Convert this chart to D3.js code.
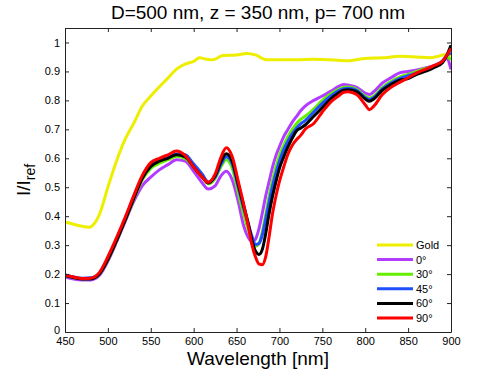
<!DOCTYPE html>
<html>
<head>
<meta charset="utf-8">
<script src="https://cdn.jsdelivr.net/npm/d3@7"></script>
<style>
  body { margin: 0; background: #fff; }
  text { font-family: "Liberation Sans", Arial, sans-serif; }
</style>
</head>
<body>
<svg id="chart" width="498" height="375"></svg>
<script>
// wavelength grid (nm) for the angle curves
var wavelength = [450,460,470,480,490,500,510,520,530,540,550,560,570,580,590,600,610,617,625,632,638,645,652,658,664,668,672,676,680,684,688,692,696,700,705,710,715,720,725,730,740,750,760,770,775,780,790,800,805,810,820,830,840,850,860,870,880,890,895,900];

var deg0  = [0.19,0.183,0.18,0.18,0.195,0.245,0.31,0.38,0.45,0.505,0.535,0.56,0.578,0.595,0.59,0.555,0.515,0.494,0.505,0.54,0.555,0.525,0.45,0.37,0.325,0.312,0.32,0.355,0.41,0.47,0.52,0.57,0.61,0.64,0.675,0.7,0.725,0.745,0.765,0.78,0.8,0.815,0.832,0.85,0.855,0.853,0.845,0.825,0.82,0.83,0.86,0.878,0.895,0.9,0.905,0.912,0.92,0.935,0.945,0.907];
var deg30 = [0.195,0.188,0.184,0.185,0.2,0.25,0.315,0.385,0.458,0.525,0.565,0.583,0.595,0.607,0.6,0.57,0.535,0.512,0.53,0.572,0.595,0.565,0.48,0.41,0.35,0.315,0.296,0.305,0.345,0.405,0.47,0.525,0.57,0.61,0.645,0.675,0.7,0.72,0.735,0.745,0.77,0.8,0.823,0.84,0.845,0.846,0.838,0.815,0.808,0.815,0.845,0.865,0.88,0.89,0.9,0.91,0.918,0.935,0.95,0.94];
var deg45 = [0.197,0.19,0.186,0.187,0.203,0.255,0.32,0.39,0.465,0.535,0.575,0.593,0.603,0.615,0.612,0.58,0.545,0.518,0.535,0.58,0.605,0.58,0.5,0.43,0.37,0.33,0.302,0.305,0.335,0.39,0.45,0.505,0.55,0.59,0.63,0.66,0.685,0.705,0.72,0.73,0.76,0.79,0.815,0.835,0.84,0.842,0.835,0.81,0.803,0.81,0.84,0.86,0.875,0.885,0.895,0.905,0.915,0.935,0.955,0.963];
var deg60 = [0.195,0.188,0.183,0.183,0.2,0.25,0.315,0.385,0.46,0.53,0.572,0.59,0.6,0.612,0.605,0.57,0.535,0.515,0.54,0.59,0.616,0.59,0.51,0.44,0.37,0.315,0.28,0.268,0.285,0.34,0.41,0.47,0.52,0.565,0.605,0.64,0.67,0.695,0.705,0.715,0.745,0.775,0.805,0.828,0.835,0.837,0.83,0.805,0.797,0.805,0.835,0.855,0.87,0.875,0.89,0.9,0.913,0.93,0.955,0.99];
var deg90 = [0.197,0.19,0.185,0.186,0.205,0.26,0.325,0.395,0.47,0.54,0.585,0.6,0.612,0.625,0.61,0.57,0.535,0.517,0.545,0.605,0.636,0.605,0.52,0.445,0.36,0.3,0.26,0.235,0.232,0.26,0.33,0.41,0.47,0.52,0.57,0.615,0.645,0.665,0.68,0.7,0.72,0.76,0.795,0.818,0.828,0.83,0.82,0.785,0.768,0.78,0.82,0.845,0.862,0.878,0.895,0.907,0.92,0.935,0.955,0.98];

// gold reference
var goldWavelength = [450,460,470,478,485,490,500,510,520,530,540,550,560,570,580,590,600,607,615,622,634,650,662,672,685,700,720,740,760,780,800,820,840,860,875,885,892,900];
var gold = [0.38,0.372,0.365,0.362,0.378,0.405,0.5,0.59,0.665,0.72,0.78,0.815,0.847,0.877,0.908,0.925,0.935,0.947,0.942,0.94,0.955,0.957,0.962,0.957,0.94,0.94,0.94,0.942,0.94,0.937,0.945,0.947,0.952,0.95,0.947,0.952,0.958,0.955];

var seriesNames = ["Gold","0°","30°","45°","60°","90°"];
var xTicks = [450,500,550,600,650,700,750,800,850,900];
var yTicks = [0,0.1,0.2,0.3,0.4,0.5,0.6,0.7,0.8,0.9,1];

var colors = ["#eeee00","#b23cff","#66ee00","#1f4fff","#000000","#ff0000"];

var margin = {top: 28, right: 47, bottom: 43, left: 65},
    width = 498 - margin.left - margin.right,
    height = 375 - margin.top - margin.bottom;

var svg = d3.select("#chart");
var g = svg.append("g").attr("transform", "translate(" + margin.left + "," + margin.top + ")");

var x = d3.scaleLinear().domain([450, 900]).range([0, width]);
var y = d3.scaleLinear().domain([0, 1.05]).range([height, 0]);

var series = [
  {name: seriesNames[0], xs: goldWavelength, ys: gold},
  {name: seriesNames[1], xs: wavelength, ys: deg0},
  {name: seriesNames[2], xs: wavelength, ys: deg30},
  {name: seriesNames[3], xs: wavelength, ys: deg45},
  {name: seriesNames[4], xs: wavelength, ys: deg60},
  {name: seriesNames[5], xs: wavelength, ys: deg90}
];

var line = d3.line()
  .x(function(d) { return x(d[0]); })
  .y(function(d) { return y(d[1]); })
  .curve(d3.curveMonotoneX);

g.append("defs").append("clipPath").attr("id", "clip")
  .append("rect").attr("width", width).attr("height", height);

series.forEach(function(s, i) {
  var pts = s.xs.map(function(v, j) { return [v, s.ys[j]]; });
  g.append("path")
    .datum(pts)
    .attr("clip-path", "url(#clip)")
    .attr("fill", "none")
    .attr("stroke", colors[i])
    .attr("stroke-width", 3)
    .attr("stroke-linejoin", "round")
    .attr("d", line);
});

// axes, ticks pointing inward, box on all sides
var axisColor = "#222";
var xb = g.append("g").attr("transform", "translate(0," + height + ")")
  .call(d3.axisBottom(x).tickValues(xTicks).tickSizeInner(-4).tickSizeOuter(0).tickPadding(4));
var xt = g.append("g")
  .call(d3.axisTop(x).tickValues(xTicks).tickSizeInner(-4).tickSizeOuter(0).tickFormat(""));
var yl = g.append("g")
  .call(d3.axisLeft(y).tickValues(yTicks).tickSizeInner(-4).tickSizeOuter(0).tickPadding(5)
    .tickFormat(function(d) { return d === 0 ? "0" : d === 1 ? "1" : d3.format(".1f")(d); }));
var yr = g.append("g").attr("transform", "translate(" + width + ",0)")
  .call(d3.axisRight(y).tickValues(yTicks).tickSizeInner(-4).tickSizeOuter(0).tickFormat(""));

[xb, xt, yl, yr].forEach(function(a) {
  a.select(".domain").attr("stroke", axisColor);
  a.selectAll(".tick line").attr("stroke", axisColor);
  a.selectAll(".tick text").attr("fill", "#000").style("font-size", "11px")
    .style("font-family", "Liberation Sans, Arial, sans-serif");
});
xb.selectAll(".tick text").attr("dy", "0.8em");
// the zero label sits a little above the corner, as in the original
yl.selectAll(".tick text").filter(function(d) { return d === 0; }).attr("dy", "0.1em");

// title and axis labels
svg.append("text")
  .attr("x", margin.left + width / 2)
  .attr("y", 19)
  .attr("text-anchor", "middle")
  .style("font-size", "19px")
  .text("D=500 nm, z = 350 nm, p= 700 nm");

svg.append("text")
  .attr("x", margin.left + width / 2)
  .attr("y", 365)
  .attr("text-anchor", "middle")
  .style("font-size", "19px")
  .text("Wavelength [nm]");

var ylab = svg.append("text")
  .attr("transform", "translate(30," + (margin.top + height / 2) + ") rotate(-90)")
  .attr("text-anchor", "middle")
  .style("font-size", "19px");
ylab.append("tspan").text("I/I");
ylab.append("tspan").attr("dy", 5).style("font-size", "14px").text("ref");

// legend
var legend = svg.append("g").attr("transform", "translate(377,245)");
seriesNames.forEach(function(name, i) {
  var row = legend.append("g").attr("transform", "translate(0," + (i * 14.6) + ")");
  row.append("line")
    .attr("x1", 0).attr("x2", 36)
    .attr("y1", 0).attr("y2", 0)
    .attr("stroke", colors[i]).attr("stroke-width", 3);
  row.append("text")
    .attr("x", 39).attr("y", 4)
    .style("font-size", "11px")
    .text(name);
});
</script>
</body>
</html>
